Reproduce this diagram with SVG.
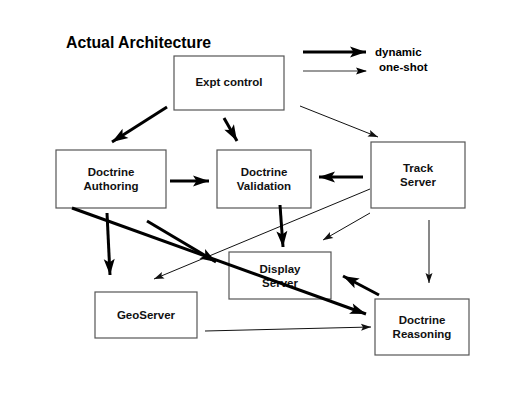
<svg xmlns="http://www.w3.org/2000/svg" width="520" height="402" viewBox="0 0 520 402">
<defs>
<style>
.box{fill:#fff;stroke:#555;stroke-width:1.2}
.lbl{font-family:"Liberation Sans",Arial,sans-serif;font-weight:bold;font-size:11.5px;fill:#111;text-anchor:middle}
.title{font-family:"Liberation Sans",Arial,sans-serif;font-weight:bold;font-size:15.8px;fill:#000}
.leg{font-family:"Liberation Sans",Arial,sans-serif;font-weight:bold;font-size:11.5px;fill:#000}
.thick{stroke:#000;stroke-width:3;fill:none;marker-end:url(#hk)}
.thin{stroke:#111;stroke-width:1;fill:none;marker-end:url(#hn)}
</style>
<marker id="hk" markerUnits="userSpaceOnUse" markerWidth="20" markerHeight="14" viewBox="-1 -7 19 14" refX="16" refY="0" orient="auto">
<path d="M0,-5.5 L16,0 L0,5.5 L3.5,0 z" fill="#000"/>
</marker>
<marker id="hn" markerUnits="userSpaceOnUse" markerWidth="14" markerHeight="10" viewBox="-1 -5 13 10" refX="10" refY="0" orient="auto">
<path d="M0,-3.5 L10,0 L0,3.5 L2,0 z" fill="#111"/>
</marker>
<marker id="hg" markerUnits="userSpaceOnUse" markerWidth="14" markerHeight="10" viewBox="-1 -5 13 10" refX="10" refY="0" orient="auto">
<path d="M0,-3.5 L11,0 L0,3.5 L2,0 z" fill="#000"/>
</marker>
</defs>
<rect width="520" height="402" fill="#fff"/>
<text class="title" x="66" y="48">Actual Architecture</text>
<g id="legend">
<line x1="303" y1="52" x2="366" y2="52" class="thick"/>
<text class="leg" x="375" y="56">dynamic</text>
<line x1="303" y1="71" x2="366" y2="71" stroke="#777" stroke-width="1.5" marker-end="url(#hg)"/>
<text class="leg" x="379" y="71">one-shot</text>
</g>
<g id="expt-control">
<rect class="box" x="174" y="56" width="110" height="54"/>
<text class="lbl" x="229" y="86">Expt control</text>
</g>
<g id="doctrine-authoring">
<rect class="box" x="56" y="150" width="110" height="58"/>
<text class="lbl" x="111" y="176">Doctrine</text>
<text class="lbl" x="111" y="190">Authoring</text>
</g>
<g id="doctrine-validation">
<rect class="box" x="217" y="150" width="94" height="58"/>
<text class="lbl" x="264" y="176">Doctrine</text>
<text class="lbl" x="264" y="190">Validation</text>
</g>
<g id="track-server">
<rect class="box" x="371" y="142" width="94" height="66"/>
<text class="lbl" x="418" y="172">Track</text>
<text class="lbl" x="418" y="186">Server</text>
</g>
<g id="geoserver">
<rect class="box" x="95" y="292" width="102" height="46"/>
<text class="lbl" x="146" y="319">GeoServer</text>
</g>
<g id="display-server">
<rect class="box" x="229" y="252" width="102" height="47"/>
<text class="lbl" x="280" y="273">Display</text>
<text class="lbl" x="280" y="287">Server</text>
</g>
<g id="doctrine-reasoning">
<rect class="box" x="375" y="299" width="94" height="56"/>
<text class="lbl" x="422" y="324">Doctrine</text>
<text class="lbl" x="422" y="338">Reasoning</text>
</g>
<g id="connectors">
<line class="thick" x1="167" y1="107" x2="112" y2="142"/>
<line class="thick" x1="224" y1="118" x2="237" y2="141"/>
<line class="thin" x1="300" y1="106" x2="378" y2="137"/>
<line class="thick" x1="170" y1="181" x2="209" y2="181"/>
<line class="thick" x1="363" y1="177" x2="319" y2="177"/>
<line class="thin" x1="370" y1="189" x2="154" y2="279"/>
<line class="thin" x1="370" y1="213" x2="323" y2="240"/>
<line class="thin" x1="429" y1="220" x2="429" y2="283"/>
<line class="thick" x1="280" y1="205" x2="283" y2="247"/>
<line class="thick" x1="107" y1="213" x2="110" y2="275"/>
<line class="thick" x1="72" y1="208" x2="366" y2="314"/>
<line class="thick" x1="147" y1="221" x2="216" y2="262"/>
<line class="thick" x1="379" y1="295" x2="343" y2="276"/>
<line class="thin" x1="205" y1="331" x2="371" y2="327"/>
</g>
</svg>
